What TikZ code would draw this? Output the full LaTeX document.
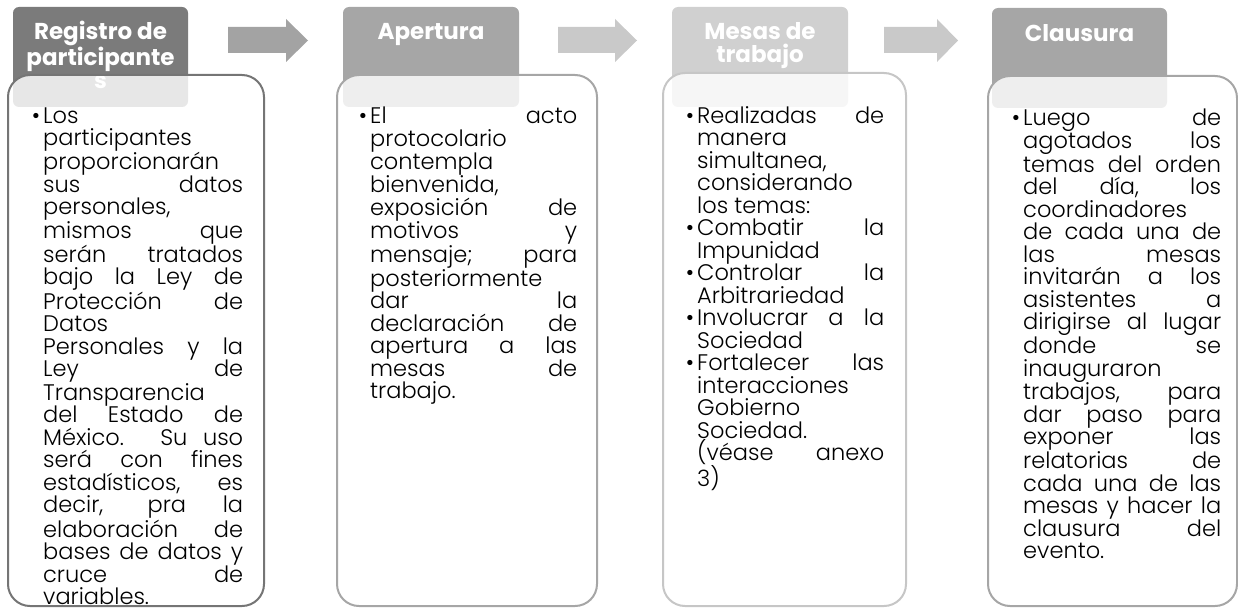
\documentclass[tikz,border=0pt]{standalone}
\usepackage{fontspec}
\setmainfont{Poppins}
\IfFontExistsTF{Poppins Light}{\newfontfamily\bodyf{Poppins Light}}{\newfontfamily\bodyf{Poppins}}
\newlength{\colw}
\newcommand{\jl}[1]{\makebox[\colw][s]{#1}\par}
\newcommand{\pl}[1]{\mbox{#1}\par}
\newcommand{\bl}{\leavevmode\llap{\textbullet\hspace{3pt}}}
\definecolor{gA}{HTML}{7B7B7B}
\definecolor{gB}{HTML}{A6A6A6}
\definecolor{gC}{HTML}{D0D0D0}
\definecolor{arA}{HTML}{A3A3A3}
\definecolor{arB}{HTML}{C9C9C9}
\tikzset{
  header/.style={rounded corners=6pt},
  bodybox/.style={rounded corners=22pt, line width=2pt, fill=white, fill opacity=0.82},
  htext/.style={text=white, inner sep=0pt, anchor=base, font=\bfseries\fontsize{23}{23}\selectfont},
  btext/.style={text=black, inner sep=0pt, anchor=base west, font=\bodyf\fontsize{22.5}{22.5}\selectfont}
}
\begin{document}
\begin{tikzpicture}[x=1pt,y=-1pt]
\useasboundingbox (0,0) rectangle (1238,607);
% arrows
\fill[arA] (228,27) -- (286,27) -- (286,19) -- (308,40.5) -- (286,62) -- (286,53) -- (228,53) -- cycle;
\fill[arB] (558,27) -- (615,27) -- (615,19) -- (637,40.5) -- (615,62) -- (615,53) -- (558,53) -- cycle;
\fill[arB] (884,27) -- (937,27) -- (937,19) -- (958,40.5) -- (937,62) -- (937,53) -- (884,53) -- cycle;
% box 1
\fill[header, gA] (13,7) rectangle (188,107);
\node[htext] (h1) at (100.5,40) {\parbox[t]{174pt}{\centering Registro de\\participante\\s}};
\draw[bodybox, draw=gA!95!black] (8,75) rectangle (264,606);
\node[btext] (t1) at (43,123) {\setlength{\colw}{200pt}\parbox[t]{200pt}{%
\pl{\bl Los}
\pl{participantes}
\pl{proporcionarán}
\jl{sus datos}
\pl{personales,}
\jl{mismos que}
\jl{serán tratados}
\jl{bajo la Ley de}
\jl{Protección de}
\pl{Datos}
\jl{Personales y la}
\jl{Ley de}
\pl{Transparencia}
\jl{del Estado de}
\jl{México. Su uso}
\jl{será con fines}
\jl{estadísticos, es}
\jl{decir, pra la}
\jl{elaboración de}
\jl{bases de datos y}
\jl{cruce de}
\pl{variables.}}};
% box 2
\fill[header, gB] (343,7) rectangle (519,107);
\node[htext] (h2) at (431,40) {Apertura};
\draw[bodybox, draw=gB] (337,75) rectangle (597,606);
\node[btext] (t2) at (370,124) {\setlength{\colw}{207pt}\parbox[t]{207pt}{%
\jl{\bl El acto}
\pl{protocolario}
\pl{contempla}
\pl{bienvenida,}
\jl{exposición de}
\jl{motivos y}
\jl{mensaje; para}
\pl{posteriormente}
\jl{dar la}
\jl{declaración de}
\jl{apertura a las}
\jl{mesas de}
\pl{trabajo.}}};
% box 3
\fill[header, gC] (672,7) rectangle (848,107);
\node[htext] (h3) at (760,40) {\parbox[t]{174pt}{\centering Mesas de\\trabajo}};
\draw[bodybox, draw=gC!95!black] (663,73) rectangle (906,606);
\node[btext] (t3) at (697,123) {\setlength{\colw}{187pt}\parbox[t]{187pt}{%
\jl{\bl Realizadas de}
\pl{manera}
\pl{simultanea,}
\pl{considerando}
\pl{los temas:}
\jl{\bl Combatir la}
\pl{Impunidad}
\jl{\bl Controlar la}
\pl{Arbitrariedad}
\jl{\bl Involucrar a la}
\pl{Sociedad}
\jl{\bl Fortalecer las}
\pl{interacciones}
\pl{Gobierno}
\pl{Sociedad.}
\jl{(véase anexo}
\pl{3)}}};
% box 4
\fill[header, gB] (992,8) rectangle (1167,108);
\node[htext] (h4) at (1079.5,42) {Clausura};
\draw[bodybox, draw=gB] (988,76) rectangle (1237,606);
\node[btext] (t4) at (1023,125) {\setlength{\colw}{198pt}\parbox[t]{198pt}{%
\jl{\bl Luego de}
\jl{agotados los}
\jl{temas del orden}
\jl{del día, los}
\pl{coordinadores}
\jl{de cada una de}
\jl{las mesas}
\jl{invitarán a los}
\jl{asistentes a}
\jl{dirigirse al lugar}
\jl{donde se}
\pl{inauguraron}
\jl{trabajos, para}
\jl{dar paso para}
\jl{exponer las}
\jl{relatorias de}
\jl{cada una de las}
\jl{mesas y hacer la}
\jl{clausura del}
\pl{evento.}}};
\end{tikzpicture}
\end{document}
